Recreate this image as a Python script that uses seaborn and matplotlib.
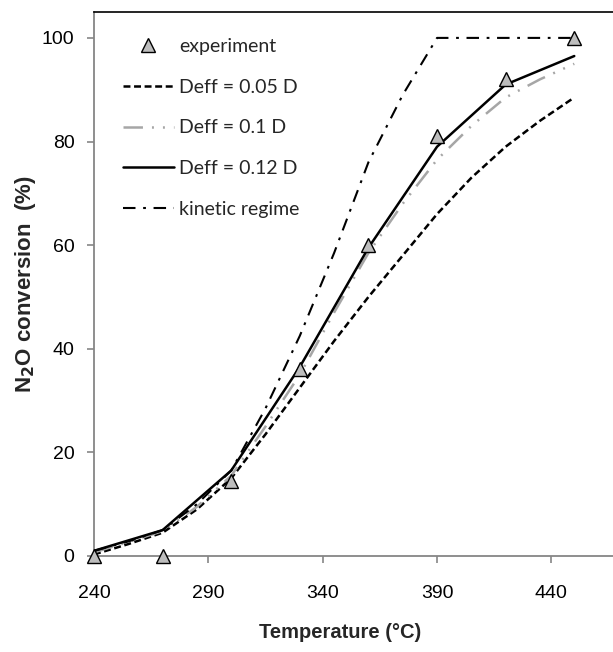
import numpy as np
import pandas as pd
import matplotlib
matplotlib.use("Agg")
import matplotlib.pyplot as plt
import seaborn as sns

# ---- data ----
temp_exp = [240, 270, 300, 330, 360, 390, 420, 450]
conv_exp = [0, 0, 14.5, 36, 60, 81, 92, 100]

temp_fine = [240, 255, 270, 285, 300, 315, 330, 345, 360, 375, 390, 405, 420, 435, 450]
deff_005 = [0.3, 2.3, 4.5, 9, 15, 23.5, 32.5, 41.5, 50, 58, 66, 73, 79, 84, 88.5]
deff_01 = [0.7, 2.7, 4.8, 9.5, 15.5, 25, 35, 47, 58.5, 68, 76.5, 83, 88.5, 92, 95]

temp_012 = [240, 270, 300, 330, 360, 390, 420, 450]
deff_012 = [1, 5, 16.5, 36.5, 59.5, 79, 91, 96.5]

temp_kin = [240, 255, 270, 285, 300, 315, 330, 345, 360, 375, 390, 420, 450]
kinetic = [1, 2.8, 5, 10, 16.5, 28.5, 42.5, 58.5, 76, 89, 100, 100, 100]

x_ticks = [240, 290, 340, 390, 440]
y_ticks = [0, 20, 40, 60, 80, 100]

sns.set_theme(style="white")
plt.rcParams["font.family"] = ["Liberation Sans", "DejaVu Sans"]
plt.rcParams["lines.scale_dashes"] = False

fig = plt.figure(figsize=(6.13, 6.52), dpi=100)
ax = fig.add_axes([94 / 613, 96 / 652, 1 - 94 / 613, (556 - 12) / 652])

sns.lineplot(x=temp_fine, y=deff_005, ax=ax, color="black", lw=1.8,
             label="Deff = 0.05 D", zorder=3)
ax.lines[-1].set_dashes((5, 2.6))
sns.lineplot(x=temp_fine, y=deff_01, ax=ax, color="#a6a6a6", lw=1.8,
             label="Deff = 0.1 D", zorder=3)
ax.lines[-1].set_dashes((14, 6.5, 1.4, 6.5, 1.4, 6.5))
sns.lineplot(x=temp_012, y=deff_012, ax=ax, color="black", lw=1.8,
             label="Deff = 0.12 D", zorder=4)
sns.lineplot(x=temp_kin, y=kinetic, ax=ax, color="black", lw=1.5,
             label="kinetic regime", zorder=3)
ax.lines[-1].set_dashes((9, 5.5, 2, 5.5))
sns.lineplot(x=temp_exp, y=conv_exp, ax=ax, marker="^", markersize=10.5,
             markerfacecolor="#bdbdbd", markeredgecolor="black", markeredgewidth=1,
             linestyle="none", color="#bdbdbd", label="experiment", zorder=6)
ax.lines[-1].set_clip_on(False)

ax.set_xlim(240, 240 + (613 - 94) / 2.287)
ax.set_ylim(0, 105)
ax.set_xticks(x_ticks)
ax.set_yticks(y_ticks)

for s in ["left", "bottom"]:
    ax.spines[s].set_color("#868686")
    ax.spines[s].set_linewidth(1.3)
ax.spines["top"].set_color("black")
ax.spines["top"].set_linewidth(1.2)
ax.spines["right"].set_visible(False)

ax.tick_params(axis="x", direction="out", length=5, width=1.2, color="#868686",
               pad=16, labelsize=14, labelcolor="black", bottom=True)
ax.tick_params(axis="y", direction="out", length=5, width=1.2, color="#868686",
               pad=9, labelsize=14, labelcolor="black", left=True)

ax.set_xlabel("Temperature (°C)", fontsize=14.5, fontweight="bold")
ax.xaxis.set_label_coords((340 - 94) / 519, (556 - 623) / 544)
ax.set_ylabel("N$_\\mathbf{2}$O conversion  (%)", fontsize=16, fontweight="bold")
ax.yaxis.set_label_coords((38 - 94) / 519, 0.5)

handles, labels = ax.get_legend_handles_labels()
order = ["experiment", "Deff = 0.05 D", "Deff = 0.1 D", "Deff = 0.12 D", "kinetic regime"]
hmap = dict(zip(labels, handles))
leg = ax.legend([hmap[k] for k in order], order, loc="upper left",
                bbox_to_anchor=((123 - 94) / 519, (556 - 38) / 544), frameon=False,
                prop={"family": ["Lato", "DejaVu Sans"], "size": 14},
                handlelength=2.6, handletextpad=0.28, labelspacing=1.22,
                borderaxespad=0, borderpad=0)

fig.savefig("out.png", dpi=100)
